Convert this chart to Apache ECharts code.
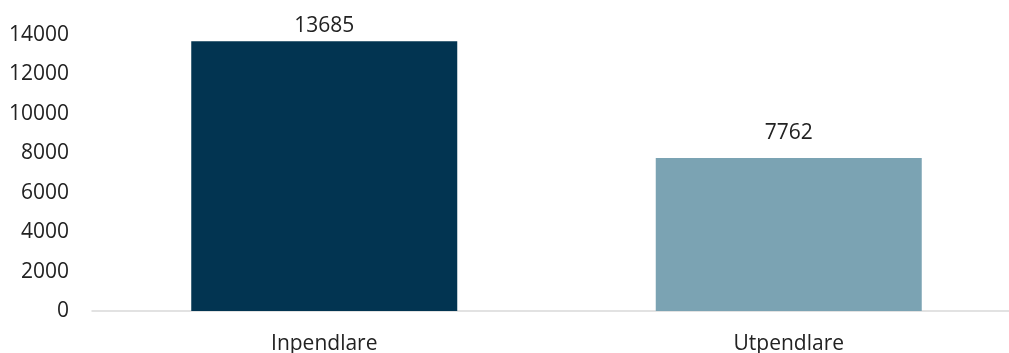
<!DOCTYPE html>
<html>
<head>
<meta charset="utf-8">
<script src="https://cdn.jsdelivr.net/npm/echarts@6/dist/echarts.min.js"></script>
<style>
html,body{margin:0;padding:0;background:#fff;}
#chart{width:1009px;height:353px;}
</style>
</head>
<body>
<div id="chart"></div>
<script>
// Pendlare: in- och utpendling
const categories = ['Inpendlare', 'Utpendlare'];
const values = [13685, 7762];
const barColors = ['#023451', '#7BA3B3'];
const labelGaps = [5, 14];
const yTicks = { min: 0, max: 14000, interval: 2000 };

const font = '"Open Sans", sans-serif';
const chart = echarts.init(document.getElementById('chart'));
chart.setOption({
  animation: false,
  grid: { left: 92, width: 929, top: 35, bottom: 42, containLabel: false, outerBoundsMode: 'none' },
  xAxis: {
    type: 'category',
    data: categories,
    axisLine: { lineStyle: { color: '#d9d9d9', width: 1.5 } },
    axisTick: { show: false },
    axisLabel: { color: '#222', fontFamily: font, fontSize: 21, margin: 23 }
  },
  yAxis: {
    type: 'value',
    min: yTicks.min, max: yTicks.max, interval: yTicks.interval,
    splitLine: { show: false },
    axisLine: { show: false },
    axisTick: { show: false },
    axisLabel: { color: '#222', fontFamily: font, fontSize: 21, margin: 23, formatter: v => String(v) }
  },
  series: [{
    type: 'bar',
    barWidth: 266,
    data: values.map((v, i) => ({
      value: v,
      itemStyle: { color: barColors[i] },
      label: { distance: labelGaps[i] }
    })),
    label: {
      show: true, position: 'top',
      color: '#222', fontFamily: font, fontSize: 21
    }
  }]
});
</script>
</body>
</html>
